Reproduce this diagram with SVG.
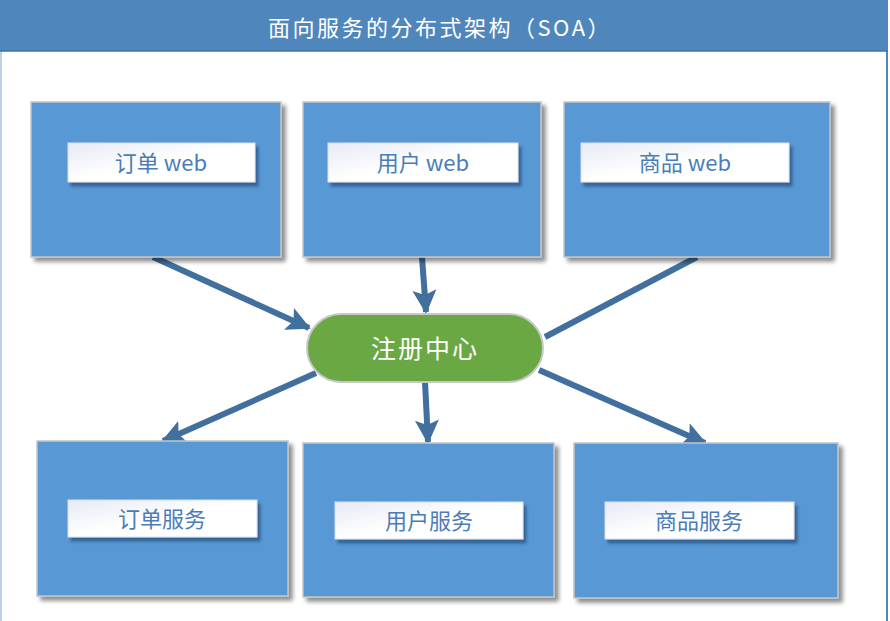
<svg xmlns="http://www.w3.org/2000/svg" width="890" height="621" viewBox="0 0 890 621">
<defs>
<style>
.box{fill:#5898d4;stroke:#c4c4c4;stroke-width:1.5}
.lbl{fill:url(#lg);stroke:#d8e0ee;stroke-width:1}
.lt{font-family:"Noto Sans CJK SC","Noto Sans",sans-serif;font-size:22px;font-weight:400;fill:#4a7db8;text-anchor:middle;dominant-baseline:central}
.conn{stroke:#41709f;stroke-width:6;fill:none}
</style>
<linearGradient id="lg" x1="0" y1="0" x2="1" y2="1">
<stop offset="0" stop-color="#e6eaf5"/>
<stop offset="0.5" stop-color="#ffffff"/>
<stop offset="1" stop-color="#ffffff"/>
</linearGradient>
<filter id="bs" x="-10%" y="-10%" width="125%" height="125%">
<feGaussianBlur in="SourceAlpha" stdDeviation="2"/>
<feOffset dx="4" dy="4" result="b"/>
<feComponentTransfer><feFuncA type="linear" slope="0.45"/></feComponentTransfer>
<feMerge><feMergeNode/><feMergeNode in="SourceGraphic"/></feMerge>
</filter>
<filter id="ls" x="-10%" y="-20%" width="125%" height="160%">
<feGaussianBlur in="SourceAlpha" stdDeviation="1.5"/>
<feOffset dx="3" dy="4" result="o"/>
<feFlood flood-color="#2c5a8a" flood-opacity="0.85"/>
<feComposite in2="o" operator="in"/>
<feMerge><feMergeNode/><feMergeNode in="SourceGraphic"/></feMerge>
</filter>
<marker id="ah" markerWidth="26" markerHeight="28" refX="22" refY="14" orient="auto" markerUnits="userSpaceOnUse">
<path d="M0,2 L24,14 L0,26 L5,14 Z" fill="#41709f"/>
</marker>
</defs>
<rect x="0" y="0" width="890" height="621" fill="#ffffff"/>
<line x1="1" y1="50" x2="1" y2="621" stroke="#bcd0e6" stroke-width="2"/>
<line x1="887" y1="50" x2="887" y2="621" stroke="#4f87bd" stroke-width="2"/>
<g id="title">
<rect x="0" y="0" width="888" height="51" fill="#4f87bd"/>
<line x1="0" y1="51" x2="888" y2="51" stroke="#3f73a6" stroke-width="1.5"/>
<text x="440" y="26" font-family="Noto Sans CJK SC,Noto Sans,sans-serif" font-size="22" letter-spacing="2.5" fill="#ffffff" text-anchor="middle" dominant-baseline="central">面向服务的分布式架构（SOA）</text>
</g>
<g id="connectors">
<line class="conn" x1="153" y1="257" x2="309" y2="328" marker-end="url(#ah)"/>
<line class="conn" x1="422" y1="257" x2="426" y2="312" marker-end="url(#ah)"/>
<line class="conn" x1="697" y1="257" x2="545" y2="337"/>
<line class="conn" x1="316" y1="373" x2="163" y2="441" marker-end="url(#ah)"/>
<line class="conn" x1="425" y1="382" x2="428" y2="442" marker-end="url(#ah)"/>
<line class="conn" x1="539" y1="370" x2="705" y2="443" marker-end="url(#ah)"/>
</g>
<g id="order-web">
<rect class="box" x="31" y="102" width="250" height="155" filter="url(#bs)"/>
<rect class="lbl" x="68" y="143" width="187" height="39" filter="url(#ls)"/>
<text class="lt" x="161" y="161">订单 web</text>
</g>
<g id="user-web">
<rect class="box" x="303" y="102" width="238" height="155" filter="url(#bs)"/>
<rect class="lbl" x="328" y="143" width="190" height="39" filter="url(#ls)"/>
<text class="lt" x="423" y="161">用户 web</text>
</g>
<g id="goods-web">
<rect class="box" x="564" y="102" width="266" height="155" filter="url(#bs)"/>
<rect class="lbl" x="581" y="143" width="208" height="39" filter="url(#ls)"/>
<text class="lt" x="685" y="161">商品 web</text>
</g>
<g id="registry">
<rect x="307" y="314" width="236" height="68" rx="34" ry="34" fill="#6aa844" stroke="#c8c8c8" stroke-width="2"/>
<text x="425" y="347" font-family="Noto Sans CJK SC,Noto Sans,sans-serif" font-size="25" letter-spacing="2" fill="#ffffff" text-anchor="middle" dominant-baseline="central">注册中心</text>
</g>
<g id="order-service">
<rect class="box" x="37" y="441" width="251" height="155" filter="url(#bs)"/>
<rect class="lbl" x="68" y="500" width="189" height="37" filter="url(#ls)"/>
<text class="lt" x="162" y="517">订单服务</text>
</g>
<g id="user-service">
<rect class="box" x="303" y="443" width="251" height="154" filter="url(#bs)"/>
<rect class="lbl" x="335" y="502" width="188" height="37" filter="url(#ls)"/>
<text class="lt" x="429" y="519">用户服务</text>
</g>
<g id="goods-service">
<rect class="box" x="574" y="443" width="264" height="155" filter="url(#bs)"/>
<rect class="lbl" x="605" y="502" width="189" height="37" filter="url(#ls)"/>
<text class="lt" x="699" y="519">商品服务</text>
</g>
</svg>
